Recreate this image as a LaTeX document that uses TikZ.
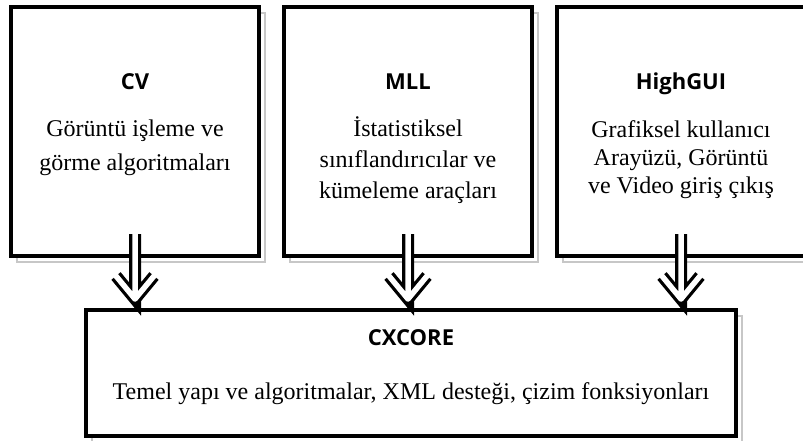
\documentclass[tikz,border=0pt]{standalone}
\usepackage{fontspec}
\setmainfont{Liberation Serif}
\newfontfamily\headfont{Open Sans}
\usetikzlibrary{positioning}

\begin{document}
\begin{tikzpicture}[
    node distance=25pt,
    box/.style={rectangle, draw=black, line width=4pt, fill=white, outer sep=0pt,
                minimum width=248pt, minimum height=249pt,
                preaction={draw=black!22, line width=2.5pt,
                           transform canvas={shift={(6pt,-6pt)}}}},
    corebox/.style={box, minimum width=650pt, minimum height=126pt},
    head/.style={font=\fontsize{22}{26}\selectfont\headfont\bfseries, inner sep=0pt},
    body/.style={font=\fontsize{24}{31}\selectfont, align=center, inner sep=0pt},
    hollow/.style={draw=white, line width=5.5pt, line cap=round, line join=round,
                   preaction={draw=black, line width=12pt}},
]
    \useasboundingbox (0,0) rectangle (803pt,440pt);

    % the three modules and the core below them
    \node[box] (cv) at (135pt,308.5pt) {};
    \node[box, right=of cv]  (mll) {};
    \node[box, right=of mll] (gui) {};
    \node[corebox, below=54pt of mll, xshift=3pt] (core) {};

    \node[head] (cv-t)   at ([yshift=-75pt]cv.north)  {CV};
    \node[head] (mll-t)  at ([yshift=-75pt]mll.north) {MLL};
    \node[head] (gui-t)  at ([yshift=-77pt]gui.north) {HighGUI};
    \node[head] (core-t) at ([yshift=-28pt]core.north) {CXCORE};

    \node[body, anchor=north, font=\fontsize{24}{34}\selectfont] (cv-b)
        at ([yshift=-113pt]cv.north) {Görüntü işleme ve\\görme algoritmaları};
    \node[body, anchor=north] (mll-b) at ([yshift=-109pt]mll.north)
        {İstatistiksel\\sınıflandırıcılar ve\\kümeleme araçları};
    \node[body, anchor=north, font=\fontsize{24}{28}\selectfont] (gui-b)
        at ([yshift=-113pt]gui.north)
        {Grafiksel kullanıcı\\Arayüzü, Görüntü\\ve Video giriş çıkış};
    \node[body] (core-b) at ([yshift=-84pt]core.north)
        {Temel yapı ve algoritmalar, XML desteği, çizim fonksiyonları};

    % hollow arrows down into the core
    \foreach \m in {cv, mll, gui} {
        \coordinate (\m-a) at ([yshift=22pt]\m.south);
        \coordinate (\m-c) at (\m.south |- core.north);
        \coordinate (\m-z) at ([yshift=11pt]\m-c);
        \draw[hollow] (\m-a) -- (\m-z) -- ++(-19pt,23pt) (\m-z) -- ++(19pt,23pt);
    }
\end{tikzpicture}
\end{document}
